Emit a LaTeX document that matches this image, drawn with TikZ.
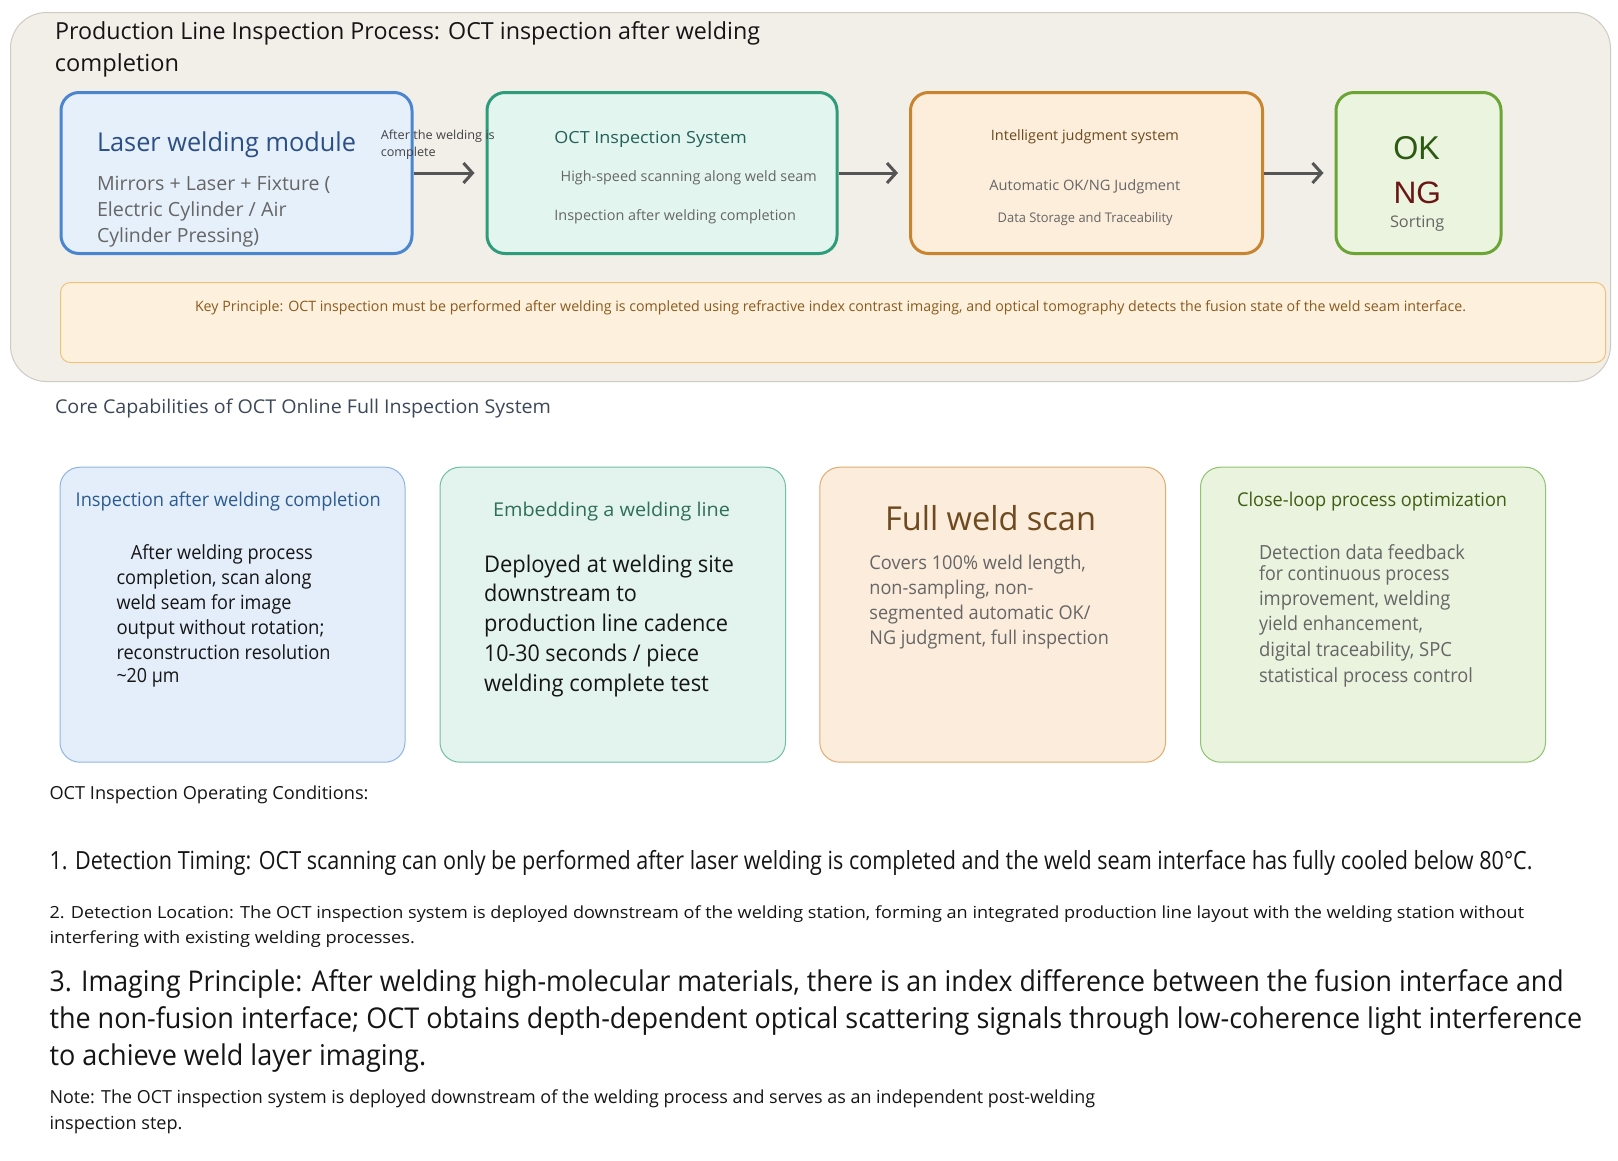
\documentclass[tikz,border=0pt]{standalone}
\usepackage{fontspec}
\setmainfont{Open Sans}
\newfontfamily\arialf{Liberation Sans}
\usepackage{graphicx}
\usetikzlibrary{arrows.meta}
\newcommand{\fsz}[1]{\fontsize{#1pt}{#1pt}\selectfont}
\newcommand{\fw}[2]{\resizebox{#1pt}{\height}{#2}}
\definecolor{panelfill}{HTML}{F2EFE9}
\definecolor{paneldraw}{HTML}{CFCAC2}
\definecolor{boxAdraw}{HTML}{4A86D0}
\definecolor{boxAfill}{HTML}{E6F0FB}
\definecolor{boxBdraw}{HTML}{2E9C7A}
\definecolor{boxBfill}{HTML}{E2F5EE}
\definecolor{boxCdraw}{HTML}{C8842E}
\definecolor{boxCfill}{HTML}{FDEDDB}
\definecolor{boxDdraw}{HTML}{6AA536}
\definecolor{boxDfill}{HTML}{EBF4DE}
\definecolor{keyfill}{HTML}{FDF0DC}
\definecolor{keydraw}{HTML}{EFC27A}
\definecolor{keytext}{HTML}{8A5A1E}
\definecolor{arrowgray}{HTML}{555555}
\definecolor{bluetitle}{HTML}{2C4F86}
\definecolor{tealtitle}{HTML}{24605A}
\definecolor{browntitle}{HTML}{6B4A1E}
\definecolor{okgreen}{HTML}{2D5A12}
\definecolor{ngred}{HTML}{6B1515}
\definecolor{graytext}{HTML}{666666}
\definecolor{darkgray}{HTML}{444444}
\definecolor{coretext}{HTML}{3C4858}
\definecolor{cardAfill}{HTML}{E4EEFA}
\definecolor{cardAdraw}{HTML}{8FB6E3}
\definecolor{cardAtitle}{HTML}{2B5B8F}
\definecolor{cardBfill}{HTML}{E3F4EE}
\definecolor{cardBdraw}{HTML}{70BFA6}
\definecolor{cardBtitle}{HTML}{2E6E5A}
\definecolor{cardCfill}{HTML}{FCECDC}
\definecolor{cardCdraw}{HTML}{E0AC70}
\definecolor{cardCtitle}{HTML}{6E4A1E}
\definecolor{cardDfill}{HTML}{E9F3DE}
\definecolor{cardDdraw}{HTML}{8EC46F}
\definecolor{cardDtitle}{HTML}{3F5E14}
\definecolor{bodyblack}{HTML}{151515}
\tikzset{
  lbl/.style={inner sep=0pt, outer sep=0pt, anchor=base west},
  flowbox/.style={draw, line width=3pt, rounded corners=18pt, inner sep=0pt, anchor=north west},
  card/.style={draw, line width=1pt, rounded corners=20pt, inner sep=0pt, anchor=north west},
  flowarrow/.style={draw=arrowgray, line width=3pt, -{Straight Barb[length=9pt,width=20pt]}, shorten >=11pt}
}
\begin{document}
\begin{tikzpicture}[x=1pt,y=-1pt]
\useasboundingbox (0,0) rectangle (1618,1160);
\fill[white] (0,0) rectangle (1618,1160);
% outer panel
\node[draw=paneldraw, fill=panelfill, line width=1pt, rounded corners=36pt, inner sep=0pt, anchor=north west,
  minimum width=1600pt, minimum height=369pt] (panel) at (10,12) {};
\node[lbl, font=\fsz{23.5}, text=bodyblack] (title1) at (55,39.5) {\fw{705}{Production Line Inspection Process: OCT inspection after welding}};
\node[lbl, font=\fsz{23.5}, text=bodyblack] (title2) at (55,71) {\fw{124}{completion}};
% flow boxes
\node[flowbox, draw=boxAdraw, fill=boxAfill, minimum width=351pt, minimum height=161pt] (laser) at (59.5,91) {};
\node[flowbox, draw=boxBdraw, fill=boxBfill, minimum width=350pt, minimum height=161pt] (oct) at (485.5,91) {};
\node[flowbox, draw=boxCdraw, fill=boxCfill, minimum width=352pt, minimum height=161pt] (judge) at (909,91) {};
\node[flowbox, draw=boxDdraw, fill=boxDfill, minimum width=165pt, minimum height=161pt] (sort) at (1334.5,91) {};
% arrows
\draw[flowarrow] (laser.east) -- (oct.west);
\draw[flowarrow] (oct.east) -- (judge.west);
\draw[flowarrow] (judge.east) -- (sort.west);
\node[lbl, font=\fsz{12.4}, text=darkgray] (afterlbl1) at (380.8,139.3) {\fw{114}{After the welding is}};
\node[lbl, font=\fsz{12.4}, text=darkgray] (afterlbl2) at (380.8,156.7) {\fw{55}{complete}};
% box texts
\node[lbl, font=\fsz{26}, text=bluetitle] (lasert) at (97,151.7) {\fw{259}{Laser welding module}};
\node[lbl, font=\fsz{19.5}, text=graytext] (laserb1) at (97,190) {\fw{233.5}{Mirrors + Laser + Fixture (}};
\node[lbl, font=\fsz{19.5}, text=graytext] (laserb2) at (97,216.7) {\fw{189.6}{Electric Cylinder / Air}};
\node[lbl, font=\fsz{19.5}, text=graytext] (laserb3) at (97,242.7) {\fw{162}{Cylinder Pressing)}};
\node[lbl, font=\fsz{16.7}, text=tealtitle] (octt) at (554.4,143.3) {\fw{192.5}{OCT Inspection System}};
\node[lbl, font=\fsz{14.3}, text=graytext] (octb1) at (560.7,181.7) {\fw{256}{High-speed scanning along weld seam}};
\node[lbl, font=\fsz{14.3}, text=graytext] (octb2) at (554.4,220.7) {\fw{241.6}{Inspection after welding completion}};
\node[lbl, font=\fsz{14.3}, text=browntitle] (judget) at (990.9,140) {\fw{188}{Intelligent judgment system}};
\node[lbl, font=\fsz{14.3}, text=graytext] (judgeb1) at (989.3,190) {\fw{191}{Automatic OK/NG Judgment}};
\node[lbl, font=\fsz{13.3}, text=graytext] (judgeb2) at (997.7,222.7) {\fw{175}{Data Storage and Traceability}};
\node[lbl, font=\arialf\fsz{33}, text=okgreen] (okt) at (1393.3,159.3) {\fw{46.5}{OK}};
\node[lbl, font=\arialf\fsz{31}, text=ngred] (ngt) at (1393.6,203.3) {\fw{47.5}{NG}};
\node[lbl, font=\fsz{16}, text=graytext] (sortt) at (1390,227.5) {\fw{54.4}{Sorting}};
% key principle
\node[draw=keydraw, fill=keyfill, line width=1pt, rounded corners=10pt, inner sep=0pt, anchor=north west,
  minimum width=1545pt, minimum height=80pt] (key) at (60,282) {};
\node[lbl, font=\fsz{14.3}, text=keytext] (keyt) at (195,311.7) {\fw{1271}{Key Principle: OCT inspection must be performed after welding is completed using refractive index contrast imaging, and optical tomography detects the fusion state of the weld seam interface.}};
% core capabilities
\node[lbl, font=\fsz{19}, text=coretext] (core) at (55,413) {\fw{496}{Core Capabilities of OCT Online Full Inspection System}};
% cards
\node[card, draw=cardAdraw, fill=cardAfill, minimum width=345pt, minimum height=295pt] (cardA) at (59.5,466.7) {};
\node[card, draw=cardBdraw, fill=cardBfill, minimum width=345.5pt, minimum height=295pt] (cardB) at (439.5,466.7) {};
\node[card, draw=cardCdraw, fill=cardCfill, minimum width=345.7pt, minimum height=295pt] (cardC) at (819.3,466.7) {};
\node[card, draw=cardDdraw, fill=cardDfill, minimum width=345pt, minimum height=295pt] (cardD) at (1200,466.7) {};
% card A
\node[lbl, font=\fsz{19}, text=cardAtitle] (cAt) at (75.7,506.7) {\fw{305}{Inspection after welding completion}};
\node[lbl, font=\fsz{19.5}, text=bodyblack] (cA1) at (130.8,559.3) {\fw{182}{After welding process}};
\node[lbl, font=\fsz{19.5}, text=bodyblack] (cA2) at (116.5,584.3) {\fw{195}{completion, scan along}};
\node[lbl, font=\fsz{19.5}, text=bodyblack] (cA3) at (116.5,609.3) {\fw{175}{weld seam for image}};
\node[lbl, font=\fsz{19.5}, text=bodyblack] (cA4) at (116.5,634.3) {\fw{208}{output without rotation;}};
\node[lbl, font=\fsz{19.5}, text=bodyblack] (cA5) at (116.5,659.3) {\fw{214}{reconstruction resolution}};
\node[lbl, font=\fsz{19.5}, text=bodyblack] (cA6) at (116.5,682.5) {\fw{63}{\textasciitilde20 µm}};
% card B
\node[lbl, font=\fsz{19}, text=cardBtitle] (cBt) at (493,516.7) {\fw{237}{Embedding a welding line}};
\node[lbl, font=\fsz{23}, text=bodyblack] (cB1) at (484,572.7) {\fw{250}{Deployed at welding site}};
\node[lbl, font=\fsz{23}, text=bodyblack] (cB2) at (484,601.7) {\fw{153}{downstream to}};
\node[lbl, font=\fsz{23}, text=bodyblack] (cB3) at (484,631.7) {\fw{244}{production line cadence}};
\node[lbl, font=\fsz{23}, text=bodyblack] (cB4) at (484,661.7) {\fw{215}{10-30 seconds / piece}};
\node[lbl, font=\fsz{23}, text=bodyblack] (cB5) at (484,691.7) {\fw{225}{welding complete test}};
% card C
\node[lbl, font=\fsz{33}, text=cardCtitle] (cCt) at (885,530) {\fw{211}{Full weld scan}};
\node[lbl, font=\fsz{19}, text=graytext] (cC1) at (869.4,569.3) {\fw{216.5}{Covers 100\% weld length,}};
\node[lbl, font=\fsz{19}, text=graytext] (cC2) at (869.4,594.3) {\fw{164}{non-sampling, non-}};
\node[lbl, font=\fsz{19}, text=graytext] (cC3) at (869.4,619.3) {\fw{221}{segmented automatic OK/}};
\node[lbl, font=\fsz{19}, text=graytext] (cC4) at (869.4,644.3) {\fw{239.4}{NG judgment, full inspection}};
% card D
\node[lbl, font=\fsz{19}, text=cardDtitle] (cDt) at (1237.1,506.7) {\fw{270}{Close-loop process optimization}};
\node[lbl, font=\fsz{19.5}, text=graytext] (cD1) at (1259,559.3) {\fw{206}{Detection data feedback}};
\node[lbl, font=\fsz{19.5}, text=graytext] (cD2) at (1259,580.5) {\fw{190.5}{for continuous process}};
\node[lbl, font=\fsz{19.5}, text=graytext] (cD3) at (1259,605.5) {\fw{191.5}{improvement, welding}};
\node[lbl, font=\fsz{19.5}, text=graytext] (cD4) at (1259,630.5) {\fw{164}{yield enhancement,}};
\node[lbl, font=\fsz{19.5}, text=graytext] (cD5) at (1259,656.5) {\fw{193}{digital traceability, SPC}};
\node[lbl, font=\fsz{19.5}, text=graytext] (cD6) at (1259,682) {\fw{214}{statistical process control}};
% bottom text
\node[lbl, font=\fsz{18}, text=bodyblack] (cond) at (49.5,799.3) {\fw{319}{OCT Inspection Operating Conditions:}};
\node[lbl, font=\fsz{25}, text=bodyblack] (cond1) at (49.5,869.3) {\fw{1483}{1. Detection Timing: OCT scanning can only be performed after laser welding is completed and the weld seam interface has fully cooled below 80°C.}};
\node[lbl, font=\fsz{16.7}, text=bodyblack] (cond2a) at (49.5,918.3) {\fw{1474.5}{2. Detection Location: The OCT inspection system is deployed downstream of the welding station, forming an integrated production line layout with the welding station without}};
\node[lbl, font=\fsz{16.7}, text=bodyblack] (cond2b) at (49.5,943.3) {\fw{365.4}{interfering with existing welding processes.}};
\node[lbl, font=\fsz{28.6}, text=bodyblack] (cond3a) at (49.5,991.7) {\fw{1514}{3. Imaging Principle: After welding high-molecular materials, there is an index difference between the fusion interface and}};
\node[lbl, font=\fsz{28.6}, text=bodyblack] (cond3b) at (49.5,1028.3) {\fw{1532.5}{the non-fusion interface; OCT obtains depth-dependent optical scattering signals through low-coherence light interference}};
\node[lbl, font=\fsz{28.6}, text=bodyblack] (cond3c) at (49.5,1065) {\fw{376.7}{to achieve weld layer imaging.}};
\node[lbl, font=\fsz{18}, text=bodyblack] (notea) at (49.5,1103.3) {\fw{1045.5}{Note: The OCT inspection system is deployed downstream of the welding process and serves as an independent post-welding}};
\node[lbl, font=\fsz{18}, text=bodyblack] (noteb) at (49.5,1129.3) {\fw{133}{inspection step.}};
\end{tikzpicture}
\end{document}
